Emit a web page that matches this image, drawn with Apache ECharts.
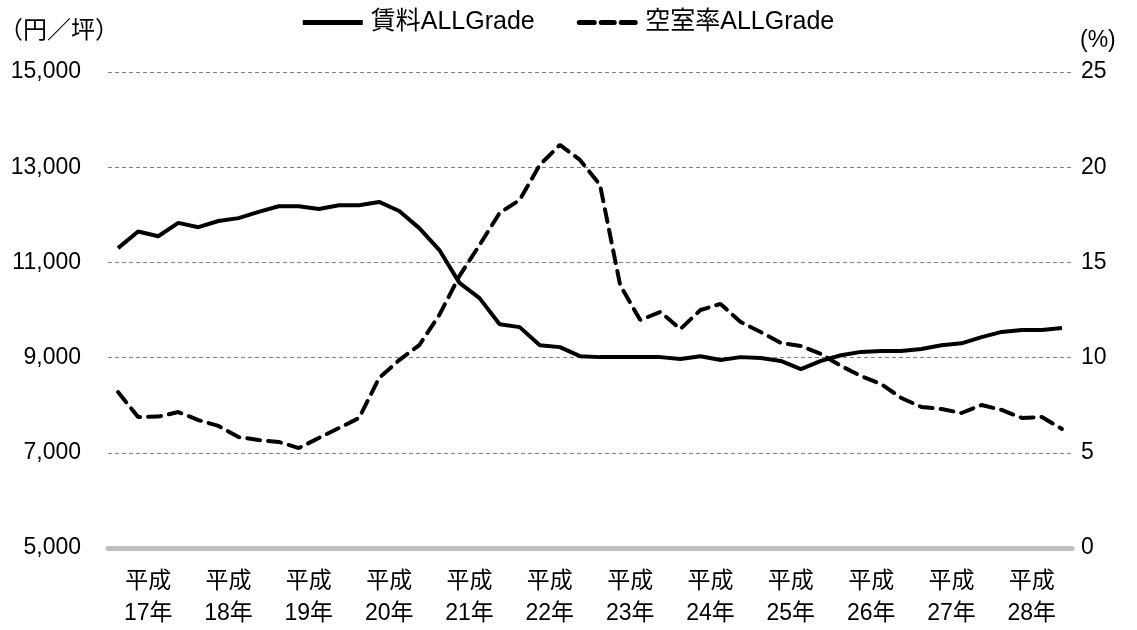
<!DOCTYPE html>
<html>
<head>
<meta charset="utf-8">
<script src="https://cdn.jsdelivr.net/npm/echarts@6/dist/echarts.min.js"></script>
<style>
html,body{margin:0;padding:0;background:#fff;}
#chart{width:1137px;height:630px;}
</style>
</head>
<body>
<div id="chart"></div>
<script>
var quarters = [];
var yearLabels = ['平成\n17年','平成\n18年','平成\n19年','平成\n20年','平成\n21年','平成\n22年','平成\n23年','平成\n24年','平成\n25年','平成\n26年','平成\n27年','平成\n28年'];
var years = [17,18,19,20,21,22,23,24,25,26,27,28];
years.forEach(function(y){ for (var q=1;q<=4;q++) quarters.push('H'+y+'Q'+q); });

var rent = [11300,11650,11550,11830,11740,11870,11930,12060,12180,12180,12120,12200,
            12200,12270,12080,11720,11260,10570,10250,9700,9640,9260,9220,9030,
            9010,9010,9010,9010,8970,9030,8950,9010,8990,8930,8760,8930,
            9050,9120,9140,9140,9180,9260,9300,9430,9540,9580,9580,9620];
var vacancy = [8.19,6.88,6.90,7.14,6.72,6.41,5.83,5.67,5.57,5.25,5.78,6.30,
               6.83,8.93,9.87,10.66,12.24,14.29,15.91,17.60,18.28,20.12,21.17,20.38,
               19.07,13.81,11.97,12.40,11.50,12.50,12.82,11.87,11.34,10.77,10.61,10.19,
               9.56,9.03,8.61,7.88,7.41,7.30,7.09,7.51,7.25,6.83,6.88,6.25];

var FONT = '"Liberation Sans", Arial, "Noto Sans CJK JP", sans-serif';
var chart = echarts.init(document.getElementById('chart'));
chart.setOption({
  animation: false,
  textStyle: {fontFamily: FONT, color: '#000'},
  legend: {
    top: 5, left: 'center', itemWidth: 62, itemHeight: 5, itemGap: 42,
    textStyle: {fontSize: 25, color: '#000', fontFamily: FONT, padding: [0, 0, 0, 2]},
    data: [
      {name: '賃料ALLGrade', icon: 'path://M0,0H60V5H0Z'},
      {name: '空室率ALLGrade', icon: 'path://M2,0H17A2.5,2.5,0,0,1,17,5H2A2.5,2.5,0,0,1,2,0Z M24,0H37A2.5,2.5,0,0,1,37,5H24A2.5,2.5,0,0,1,24,0Z M44,0H58A2.5,2.5,0,0,1,58,5H44A2.5,2.5,0,0,1,44,0Z'}
    ]
  },
  graphic: [
    {type: 'text', x: -1, y: 19, style: {text: '（円／坪）', fontSize: 24, fill: '#000', fontFamily: FONT}}
  ],
  grid: {left: 108, right: 65, top: 72, bottom: 82, outerBoundsMode: 'none', containLabel: false},
  xAxis: [
    {type: 'category', data: quarters, boundaryGap: true, show: false},
    {type: 'category', data: yearLabels, boundaryGap: true, position: 'bottom',
     axisLine: {show: true, lineStyle: {color: '#bfbfbf', width: 5}},
     axisTick: {show: false},
     axisLabel: {fontSize: 23, lineHeight: 32, color: '#000', margin: 18, interval: 0, fontFamily: FONT}}
  ],
  yAxis: [
    {type: 'value', min: 5000, max: 15000, interval: 2000,
     axisLine: {show: false}, axisTick: {show: false},
     axisLabel: {fontSize: 23, color: '#000', margin: 27, fontFamily: FONT,
       formatter: function(v){ return v.toLocaleString('en-US'); }},
     splitLine: {lineStyle: {color: '#808080', type: [4, 3], width: 1}}},
    {type: 'value', min: 0, max: 25, interval: 5,
     name: '(%)', nameLocation: 'end', nameGap: 20,
     nameTextStyle: {fontSize: 23, color: '#000', align: 'left', padding: [0, 0, 0, 8], fontFamily: FONT},
     axisLine: {show: false}, axisTick: {show: false},
     axisLabel: {fontSize: 23, color: '#000', margin: 9, fontFamily: FONT},
     splitLine: {show: false}}
  ],
  series: [
    {name: '賃料ALLGrade', type: 'line', xAxisIndex: 0, yAxisIndex: 0, data: rent,
     symbol: 'none', lineStyle: {color: '#000', width: 4}, itemStyle: {color: '#000'}},
    {name: '空室率ALLGrade', type: 'line', xAxisIndex: 0, yAxisIndex: 1, data: vacancy,
     symbol: 'none', lineStyle: {color: '#000', width: 4, type: [13, 8], cap: 'round'}, itemStyle: {color: '#000'}}
  ]
});
</script>
</body>
</html>
